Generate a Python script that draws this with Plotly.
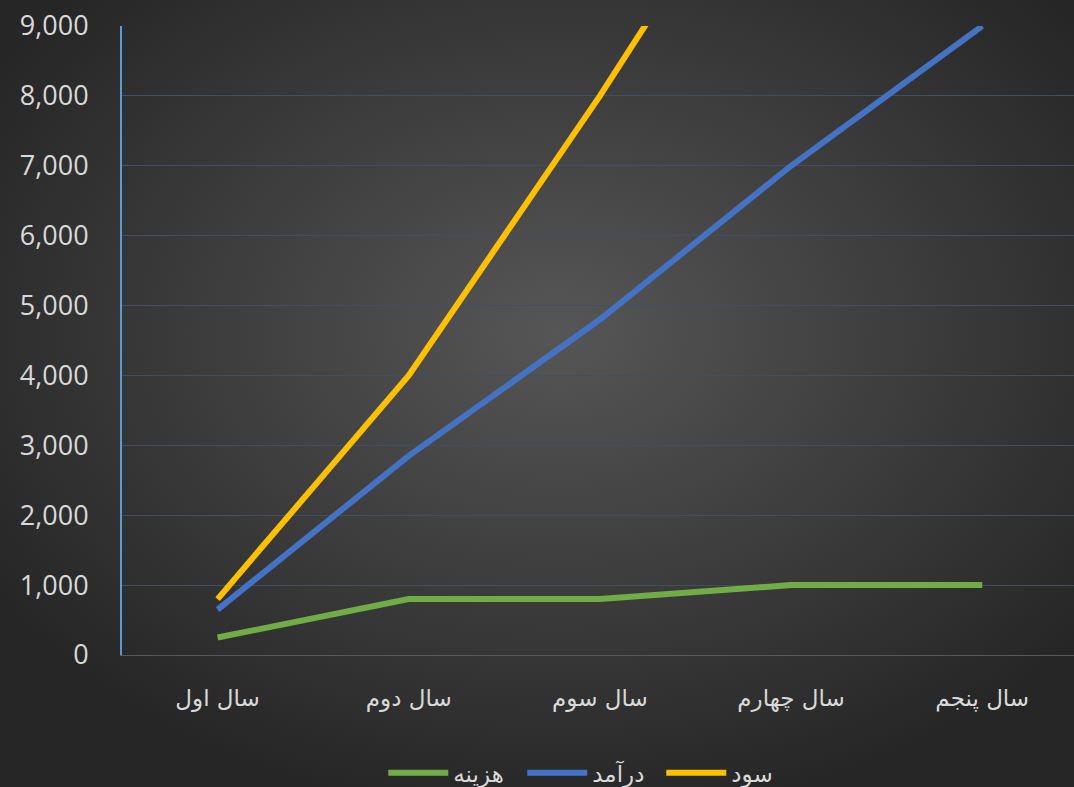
import base64
import plotly.graph_objects as go

categories = ["سال اول", "سال دوم", "سال سوم", "سال چهارم", "سال پنجم"]
cost = [250, 800, 800, 1000, 1000]          # هزینه
revenue = [650, 2850, 4800, 7000, 9000]     # درآمد
profit = [800, 4000, 8000, 12300, 16500]    # سود
y_ticks = [0, 1000, 2000, 3000, 4000, 5000, 6000, 7000, 8000, 9000]

W, H = 1074, 787
L, R, T, B = 122, 0, 26, 132
pw, ph = W - L - R, H - T - B

svg = f'''<svg xmlns="http://www.w3.org/2000/svg" width="{W}" height="{H}">
<defs><radialGradient id="g" cx="0.52" cy="0.42" r="0.62" gradientUnits="objectBoundingBox">
<stop offset="0" stop-color="#565656"/><stop offset="1" stop-color="#262626"/></radialGradient></defs>
<rect width="{W}" height="{H}" fill="url(#g)"/></svg>'''
bg = "data:image/svg+xml;base64," + base64.b64encode(svg.encode()).decode()

fig = go.Figure()
series = [("هزینه", cost, "#70ad47"), ("درآمد", revenue, "#4472c4"), ("سود", profit, "#ffc000")]
for name, vals, col in series:
    fig.add_trace(go.Scatter(x=categories, y=vals, name=name, mode="lines",
                             line=dict(color=col, width=6), cliponaxis=True))

fig.update_layout(
    width=W, height=H,
    margin=dict(l=L, r=R, t=T, b=B),
    paper_bgcolor="#2e2e2e", plot_bgcolor="rgba(0,0,0,0)",
    font=dict(family="Open Sans, DejaVu Sans, sans-serif", color="#d9d9d9"),
    images=[dict(source=bg, xref="paper", yref="paper", x=-L / pw, y=1 + T / ph,
                 sizex=W / pw, sizey=H / ph, sizing="stretch", xanchor="left",
                 yanchor="top", layer="below")],
    xaxis=dict(type="category", range=[-0.5, 4.48], showgrid=False,
               showline=True, linecolor="#595959", linewidth=1,
               tickfont=dict(size=23, family="DejaVu Sans, sans-serif", color="#d9d9d9"),
               ticks="", ticklabelstandoff=22, zeroline=False),
    yaxis=dict(range=[0, 9000], tickvals=y_ticks, tickformat=",",
               showgrid=True, gridcolor="#3e5062", gridwidth=1,
               showline=True, linecolor="#5b9bd5", linewidth=2,
               tickfont=dict(size=27, family="Open Sans, sans-serif", color="#d9d9d9"),
               ticks="", ticklabelstandoff=26, zeroline=False),
    legend=dict(orientation="h", xref="container", yref="container",
                x=0.551, xanchor="center", y=0.018, yanchor="middle",
                font=dict(size=23, family="DejaVu Sans, sans-serif", color="#d9d9d9"),
                bgcolor="rgba(0,0,0,0)", itemwidth=60, entrywidth=64),
    showlegend=True,
)

fig.write_html("out.html", config={"displayModeBar": False},
               post_script="document.body.style.margin='0';document.body.style.overflow='hidden';document.body.style.background='#262626';")
